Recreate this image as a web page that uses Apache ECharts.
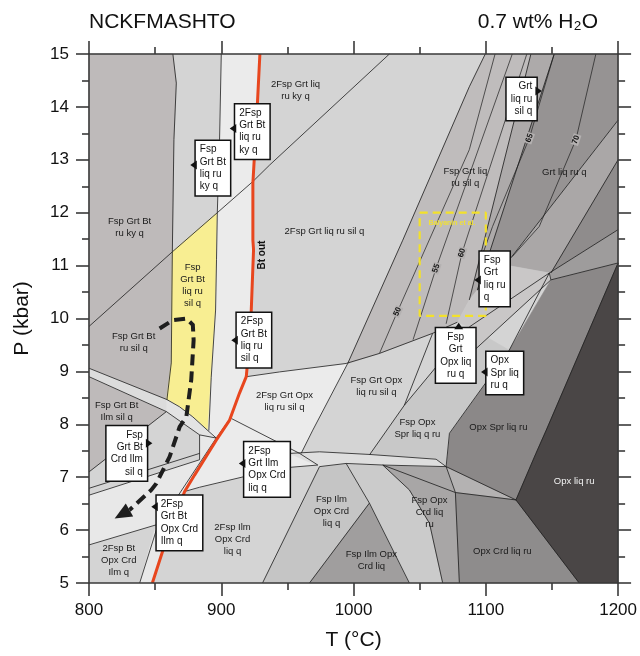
<!DOCTYPE html>
<html>
<head>
<meta charset="utf-8">
<script src="https://cdn.jsdelivr.net/npm/echarts@6/dist/echarts.min.js"></script>
<style>
html,body{margin:0;padding:0;background:#fff}
#chart{width:640px;height:656px}
</style>
</head>
<body>
<div id="chart"></div>
<script>
// Phase-field outlines, in [T (°C), P (kbar)]
const FIELDS = [
  {key:'btSub',      pts:[[800,15],[863.4,15],[866,14.45],[864.2,13.38],[863,11.26],[862.2,9.16],[858.9,8.46],[858.5,8.24],[800,7.10]]},
  {key:'ilmBand',    pts:[[800,9.06],[858.9,8.46],[858.5,8.24],[800,8.90]]},
  {key:'meltPath',   pts:[[863,11.26],[897,12.0],[896.4,11.11],[895.7,10.16],[892.4,8.89],[890.6,7.88],[878.5,8.14],[868.5,8.33],[858.7,8.47],[862.2,9.16]]},
  {key:'belowPath',  pts:[[858.7,8.47],[868.5,8.33],[878.5,8.14],[889.9,7.88],[896.2,7.74],[883.6,7.80],[858.5,8.24]]},
  {key:'twoFspBt',   pts:[[900,15],[929.2,15],[927.2,14.0],[923.9,12.56],[923.9,11.48],[924.4,11.30],[922.1,9.78],[918.9,8.90],[913.8,8.59],[906.3,8.08],[896.2,7.70],[889.9,7.88],[892.4,8.89],[895.7,10.16],[896.4,11.11],[897,12.0],[898.7,13.38]]},
  {key:'twoFspOpx',  pts:[[918.9,8.90],[944,8.99],[995.6,9.15],[969.2,7.89],[960.4,7.45],[907.6,8.11],[913.8,8.59]]},
  {key:'twoFspIlm',  pts:[[907.6,8.11],[959.2,7.45],[973,7.23],[944,7.17],[883.6,6.81],[872.3,6.73],[879.8,7.04],[896.2,7.70],[906.3,8.08]]},
  {key:'crdLight',   pts:[[800,6.66],[883.6,7.33],[883.6,7.80],[896.2,7.74],[905,8.05],[906.3,8.08],[896.2,7.70],[879.8,7.04],[872.3,6.73],[855.9,5.62],[847.9,5.0],[838.3,5.0],[850.9,6.10],[800,5.72]]},
  {key:'fspIlmQ',    pts:[[974.3,7.20],[994.4,7.26],[1012,6.51],[966.7,5.0],[931.2,5.0]]},
  {key:'fspIlm',     pts:[[1012,6.51],[1042.2,5.0],[966.7,5.0]]},
  {key:'crdStrip',   pts:[[994.4,7.26],[1022.1,7.23],[1042.2,6.76],[1057.4,6.13],[1067.4,5.0],[1042.2,5.0],[1012,6.51]]},
  {key:'fspOpxCrd',  pts:[[1022.1,7.23],[1070,7.20],[1077,6.71],[1080,5.0],[1067.4,5.0],[1057.4,6.13],[1042.2,6.76]]},
  {key:'triSpr',     pts:[[1070,7.20],[1122.8,6.57],[1077,6.71]]},
  {key:'opxCrd',     pts:[[1077,6.71],[1122.8,6.57],[1170.6,5.0],[1080,5.0]]},
  {key:'opxSpr',     pts:[[1117.7,9.40],[1149.2,10.73],[1200,11.05],[1145.7,7.89],[1137.9,7.45],[1122.8,6.57],[1070,7.20],[1072.5,7.83],[1085.1,8.27]]},
  {key:'opxLiq',     pts:[[1200,11.05],[1145.7,7.89],[1137.9,7.45],[1122.8,6.57],[1170.6,5.0],[1200,5.0]]},
  {key:'fspOpxSpr',  pts:[[1038.4,8.36],[1087.5,9.84],[1117.7,9.40],[1085.1,8.27],[1072.5,7.83],[1070,7.20],[1062.4,7.34],[1012,7.42]]},
  {key:'sliver',     pts:[[951.6,7.45],[974.3,7.48],[1012,7.43],[1062.4,7.34],[1070,7.20],[1022.1,7.23],[994.4,7.26],[974.3,7.20]]},
  {key:'fspGrtSil',  pts:[[1099.6,15],[1134.1,15],[1087.5,10.35],[1078.5,9.93],[1059.8,9.72],[1019.6,9.34],[995.6,9.15],[1037.2,11.48],[1087.5,14.38]]},
  {key:'grtSil',     pts:[[1134.1,15],[1151.7,15],[1093.6,10.54],[1087.5,10.35]]},
  {key:'grtQ',       pts:[[1151.7,15],[1200,15],[1200,13.75],[1114.7,11.01],[1093.6,10.54]]},
  {key:'bandA',      pts:[[1200,13.75],[1200,13.0],[1149.2,10.86],[1114.7,11.01]]},
  {key:'bandB',      pts:[[1200,13.0],[1200,11.68],[1148,10.86],[1149.2,10.86]]},
  {key:'bandC',      pts:[[1200,11.68],[1200,11.05],[1149.2,10.73],[1148,10.86]]},
  {key:'wedge',      pts:[[1078.5,9.93],[1087.5,10.35],[1093.6,10.54],[1114.7,11.01],[1148,10.86],[1149.2,10.73],[1091.3,9.40],[1087.5,9.84]]}
];

const SHADE = {
  btSub:'#bebaba', ilmBand:'#dcdcdc', meltPath:'#f8ee92', belowPath:'#e3e3e3',
  twoFspBt:'#ebebeb', twoFspOpx:'#ebebeb', twoFspIlm:'#ebebeb', crdLight:'#e8e8e8',
  fspIlmQ:'#c5c5c5', fspIlm:'#a09e9e', crdStrip:'#cbcbcb', fspOpxCrd:'#a8a6a6',
  triSpr:'#b4b2b2', opxCrd:'#8e8c8c', opxSpr:'#8b8888', opxLiq:'#4a4646',
  fspOpxSpr:'#c8c8c8', sliver:'#dedede', fspGrtSil:'#bfbcbc', grtSil:'#adaaaa',
  grtQ:'#969393', bandA:'#aaa7a7', bandB:'#8f8c8c', bandC:'#9e9c9c', wedge:'#c9c7c7'
};

// Field boundaries
const BOUNDARIES = [
  [[863.4,15],[866,14.45],[864.2,13.38],[863,11.26],[862.2,9.16],[858.9,8.46]],
  [[800,9.85],[863,11.26],[897,12.0],[923.9,12.59],[936.5,12.90],[1027.1,15]],
  [[900,15],[898.7,13.38],[897,12.0],[896.4,11.11],[895.7,10.16],[892.4,8.89],[890.6,7.88]],
  [[800,9.06],[858.7,8.47],[868.5,8.33],[878.5,8.14],[889.9,7.88],[896.2,7.74]],
  [[800,8.90],[858.5,8.24],[883.6,7.80],[896.2,7.74]],
  [[858.5,8.24],[800,7.10]],
  [[883.6,7.80],[883.6,7.33]],
  [[800,6.79],[883.6,7.45]],
  [[800,6.66],[883.6,7.33]],
  [[905,8.05],[896.2,7.74],[866,6.60],[850.9,6.0],[838.3,5.0]],
  [[800,5.72],[850.9,6.10]],
  [[918.9,8.90],[944,8.99],[994.4,9.15],[1019.6,9.34],[1059.8,9.72],[1078.5,9.93]],
  [[1099.6,15],[1087.5,14.38],[1037.2,11.48],[995.6,9.15],[969.2,7.89],[960.4,7.45]],
  [[907.6,8.11],[959.2,7.45],[973,7.23]],
  [[872.3,6.73],[883.6,6.81],[944,7.17],[973,7.23]],
  [[974.3,7.20],[931.2,5.0]],
  [[994.4,7.26],[1012,6.51],[966.7,5.0]],
  [[1012,6.51],[1042.2,5.0]],
  [[1022.1,7.23],[1042.2,6.76],[1057.4,6.13],[1067.4,5.0]],
  [[1022.1,7.23],[1077,6.71]],
  [[1070,7.20],[1077,6.71],[1080,5.0]],
  [[1070,7.20],[1122.8,6.57]],
  [[1077,6.71],[1122.8,6.57],[1170.6,5.0]],
  [[1122.8,6.57],[1137.9,7.45],[1145.7,7.89],[1200,11.05]],
  [[1038.4,8.36],[1012,7.42]],
  [[1059.8,9.72],[1038.4,8.36]],
  [[1038.4,8.36],[1087.5,9.84]],
  [[951.6,7.45],[974.3,7.48],[1012,7.43],[1062.4,7.34],[1070,7.20]],
  [[974.3,7.20],[994.4,7.26],[1022.1,7.23],[1070,7.20]],
  [[1070,7.20],[1072.5,7.83],[1085.1,8.27],[1117.7,9.40],[1148,10.86]],
  [[1134.1,15],[1087.5,10.35]],
  [[1151.7,15],[1093.6,10.54]],
  [[1200,13.75],[1114.7,11.01],[1093.6,10.54]],
  [[1200,13.0],[1149.2,10.86]],
  [[1087.5,9.84],[1148,10.86],[1200,11.68]],
  [[1091.3,9.40],[1149.2,10.73],[1200,11.05]],
  [[1148,10.86],[1149.2,10.73]]
];

// Biotite-out reaction
const BT_OUT = [[929.2,15],[927.2,14.0],[923.9,12.56],[923.9,11.48],[924.4,11.30],[922.1,9.78],[918.9,8.90],[913.8,8.59],[906.3,8.08],[896.2,7.70],[879.8,7.04],[872.3,6.73],[855.9,5.62],[847.9,5.0]];

// Isopleths with their values
const ISOPLETHS = [
  {value:'50', pts:[[1019.6,9.34],[1033.2,10.13],[1087.5,13.19],[1107,15]], at:1},
  {value:'55', pts:[[1045,9.6],[1062.4,10.95],[1120,15]], at:1},
  {value:'60', pts:[[1070,9.9],[1082,11.24],[1131,15]], at:1},
  {value:'65', pts:[[1097.4,11.2],[1105.1,11.74],[1132.9,13.41],[1151.7,15]], at:2},
  {value:'70', pts:[[1120,11.17],[1140.4,11.74],[1168.1,13.38],[1183.2,15]], at:2}
];

// P-T path
const PATH = [[853.4,9.81],[863.4,9.97],[873.6,10.0],[878.5,9.88],[879.1,9.59],[877.3,8.84],[873.6,8.14],[868.5,7.95],[861,7.39],[850.9,6.88],[847.1,6.76],[830.7,6.38],[819.4,6.22]];

// Study window
const WINDOW_T = [1050, 1100];
const WINDOW_P = [10.05, 12];

// Field names placed inside fields
const FIELD_NAMES = [
  {text:'2Fsp Grt liq\nru ky q', at:[956.1,14.32]},
  {text:'Fsp Grt Bt\nru ky q', at:[830.7,11.73]},
  {text:'2Fsp Grt liq ru sil q', at:[978,11.65]},
  {text:'Fsp Grt liq\nru sil q', at:[1084.5,12.67]},
  {text:'Grt liq ru q', at:[1159.3,12.77]},
  {text:'Fsp Grt Bt\nru sil q', at:[833.8,9.54]},
  {text:'Fsp Grt Bt\nIlm sil q', at:[820.9,8.25]},
  {text:'Fsp\nGrt Bt\nliq ru\nsil q', at:[878.3,10.63]},
  {text:'2Fsp Grt Opx\nliq ru sil q', at:[947.8,8.44]},
  {text:'Fsp Grt Opx\nliq ru sil q', at:[1017.3,8.72]},
  {text:'Fsp Opx\nSpr liq q ru', at:[1048.3,7.93]},
  {text:'Opx Spr liq ru', at:[1109.5,7.95]},
  {text:'Opx liq ru', at:[1166.8,6.93], light:true},
  {text:'Opx Crd liq ru', at:[1112.5,5.60]},
  {text:'Fsp Opx\nCrd liq\nru', at:[1057.4,6.34]},
  {text:'Fsp Ilm Opx\nCrd liq', at:[1013.5,5.43]},
  {text:'Fsp Ilm\nOpx Crd\nliq q', at:[983.3,6.36]},
  {text:'2Fsp Ilm\nOpx Crd\nliq q', at:[908.5,5.83]},
  {text:'2Fsp Bt\nOpx Crd\nIlm q', at:[822.5,5.42]}
];

// Boxed names for narrow fields: tip = the point the marker points at
const CALLOUTS = [
  {text:'2Fsp\nGrt Bt\nliq ru\nky q', tip:[906.4,13.59], side:'left'},
  {text:'Fsp\nGrt Bt\nliq ru\nky q', tip:[876.6,12.90], side:'left'},
  {text:'2Fsp\nGrt Bt\nliq ru\nsil q', tip:[907.6,9.59], side:'left'},
  {text:'Grt\nliq ru\nsil q', tip:[1142.4,14.30], side:'right'},
  {text:'Fsp\nGrt\nliq ru\nq', tip:[1091.3,10.73], side:'left'},
  {text:'Fsp\nGrt\nOpx liq\nru q', tip:[1079.5,9.92], side:'top'},
  {text:'Opx\nSpr liq\nru q', tip:[1096.4,8.99], side:'left'},
  {text:'Fsp\nGrt Bt\nCrd Ilm\nsil q', tip:[847.9,7.64], side:'right'},
  {text:'2Fsp\nGrt Ilm\nOpx Crd\nliq q', tip:[913.3,7.26], side:'left'},
  {text:'2Fsp\nGrt Bt\nOpx Crd\nIlm q', tip:[847.1,6.44], side:'left'}
];
// pixel shift of each box centre from its marker
const CALLOUT_SHIFT = [3, 3, 0, 8, -1, -3, 1, 10, 6, 16];

const FONT = '"Liberation Sans", Arial, Helvetica, sans-serif';

const chart = echarts.init(document.getElementById('chart'), null, {renderer:'canvas'});

function axisCommon(showLabels) {
  return {
    type:'value', min:800, max:1200, interval:100,
    axisLine:{show:true, onZero:false, lineStyle:{color:'#3a3a3a', width:1.6}},
    axisTick:{show:true, inside:false, length:13, lineStyle:{color:'#3a3a3a', width:1.6}},
    minorTick:{show:true, splitNumber:2, length:7, lineStyle:{color:'#3a3a3a', width:1.6}},
    splitLine:{show:false}, minorSplitLine:{show:false},
    axisLabel:{show:showLabels, fontSize:17, color:'#111', fontFamily:FONT, margin:19, formatter:v => String(v)},
    z:10
  };
}

const option = {
  animation:false,
  backgroundColor:'#fff',
  grid:{left:89, right:21, top:54, bottom:73, show:true, backgroundColor:'#d4d4d4', borderWidth:0},
  graphic:[
    {type:'text', left:89, top:12, style:{text:'NCKFMASHTO', font:'21px ' + FONT, fill:'#111'}},
    {type:'text', right:42, top:12, style:{text:'0.7 wt% H₂O', font:'21px ' + FONT, fill:'#111'}}
  ],
  xAxis:[
    Object.assign(axisCommon(true), {position:'bottom', name:'T (°C)', nameLocation:'middle', nameGap:47,
      nameTextStyle:{fontSize:21, fontFamily:FONT, color:'#111'}}),
    Object.assign(axisCommon(false), {position:'top'})
  ],
  yAxis:[
    Object.assign(axisCommon(true), {min:5, max:15, interval:1, position:'left', name:'P (kbar)', nameLocation:'middle', nameGap:56,
      nameTextStyle:{fontSize:21, fontFamily:FONT, color:'#111'}, axisLabel:{show:true, fontSize:17, color:'#111', fontFamily:FONT, margin:20, formatter:v => String(v)}}),
    Object.assign(axisCommon(false), {min:5, max:15, interval:1, position:'right'})
  ],
  series:[
    {
      type:'custom', name:'fields', xAxisIndex:0, yAxisIndex:0, silent:true, z:1,
      data:FIELDS.map(f => f.pts[0]),
      renderItem:(params, api) => {
        const f = FIELDS[params.dataIndex];
        const c = SHADE[f.key];
        return {type:'polygon', shape:{points:f.pts.map(p => api.coord(p))}, style:{fill:c, stroke:c, lineWidth:0.6}};
      }
    },
    {
      type:'custom', name:'boundaries', silent:true, z:2,
      data:BOUNDARIES.map(b => b[0]),
      renderItem:(params, api) => ({
        type:'polyline', shape:{points:BOUNDARIES[params.dataIndex].map(p => api.coord(p))},
        style:{stroke:'#1c1c1c', lineWidth:0.8, fill:null}
      })
    },
    {
      type:'custom', name:'isopleths', silent:true, z:3,
      data:ISOPLETHS.map(c => c.pts[0]),
      renderItem:(params, api) => {
        const c = ISOPLETHS[params.dataIndex];
        const px = c.pts.map(p => api.coord(p));
        const a = px[c.at - 1] || px[0], b = px[c.at + 1] || px[px.length - 1];
        let ang = Math.atan2(b[1] - a[1], b[0] - a[0]);
        const lab = px[c.at];
        return {type:'group', children:[
          {type:'polyline', shape:{points:px}, style:{stroke:'#1c1c1c', lineWidth:0.7, fill:null}},
          {type:'text', x:lab[0], y:lab[1], rotation:-ang,
            style:{text:c.value, font:'bold 8px ' + FONT, fill:'#111', align:'center', verticalAlign:'middle',
              backgroundColor:'#b4b1b1', padding:[0,1]}}
        ]};
      }
    },
    {
      type:'line', name:'Bt out', data:BT_OUT, showSymbol:false, symbol:'none', silent:true, z:4,
      lineStyle:{color:'#e8461e', width:3}
    },
    {
      type:'line', name:'window', silent:true, z:4, symbol:'none',
      data:[[WINDOW_T[0],WINDOW_P[1]],[WINDOW_T[1],WINDOW_P[1]],[WINDOW_T[1],WINDOW_P[0]],[WINDOW_T[0],WINDOW_P[0]],[WINDOW_T[0],WINDOW_P[1]]],
      lineStyle:{color:'#f3e12a', width:2.2, type:[8,5]}
    },
    {
      type:'custom', name:'names', silent:true, z:5,
      data:FIELD_NAMES.map(n => n.at),
      renderItem:(params, api) => {
        const n = FIELD_NAMES[params.dataIndex];
        const p = api.coord(n.at);
        return {type:'text', x:p[0], y:p[1], style:{text:n.text, font:'9.5px ' + FONT, fill:n.light ? '#f2f2f2' : '#1a1a1a',
          align:'center', verticalAlign:'middle', lineHeight:12}};
      }
    },
    {
      type:'custom', name:'annotations', silent:true, z:5,
      data:[[931,11.2],[1056.6,11.81]],
      renderItem:(params, api) => {
        const p = api.coord([api.value(0), api.value(1)]);
        if (params.dataIndex === 0) {
          return {type:'text', x:p[0], y:p[1], rotation:Math.PI / 2,
            style:{text:'Bt out', font:'bold 10px ' + FONT, fill:'#111', align:'center', verticalAlign:'middle'}};
        }
        return {type:'text', x:p[0], y:p[1],
          style:{text:'Balyanin et al.', font:'bold 7px ' + FONT, fill:'#efe03a', align:'left', verticalAlign:'middle'}};
      }
    },
    {
      type:'custom', name:'P-T path', silent:true, z:6,
      data:[PATH[0]],
      renderItem:(params, api) => {
        const px = PATH.map(p => api.coord(p));
        const tip = px[px.length - 1], prev = px[px.length - 2];
        const dx = tip[0] - prev[0], dy = tip[1] - prev[1];
        const L = Math.hypot(dx, dy), ux = dx / L, uy = dy / L;
        const head = 17, half = 7.5;
        const base = [tip[0] - ux * head, tip[1] - uy * head];
        const line = px.slice(0, -1).concat([base]);
        return {type:'group', children:[
          {type:'polyline', shape:{points:line}, style:{stroke:'#1e1e1e', lineWidth:4, lineDash:[11,6], fill:null}},
          {type:'polygon', shape:{points:[tip, [base[0] - uy * half, base[1] + ux * half], [base[0] + uy * half, base[1] - ux * half]]},
            style:{fill:'#1e1e1e'}}
        ]};
      }
    },
    {
      type:'custom', name:'callouts', silent:true, z:7,
      data:CALLOUTS.map(c => c.tip),
      renderItem:(params, api) => {
        const c = CALLOUTS[params.dataIndex];
        const s = CALLOUT_SHIFT[params.dataIndex];
        const t = api.coord(c.tip);
        const g = 5.5, h = 4.5;
        let tx, ty, align, va, tri;
        if (c.side === 'left') {
          tx = t[0] + g; ty = t[1] + s; align = 'left'; va = 'middle';
          tri = [t, [t[0] + g + 1, t[1] - h], [t[0] + g + 1, t[1] + h]];
        } else if (c.side === 'right') {
          tx = t[0] - g; ty = t[1] + s; align = 'right'; va = 'middle';
          tri = [t, [t[0] - g - 1, t[1] - h], [t[0] - g - 1, t[1] + h]];
        } else {
          tx = t[0] + s; ty = t[1] + g; align = 'center'; va = 'top';
          tri = [t, [t[0] - h, t[1] + g + 1], [t[0] + h, t[1] + g + 1]];
        }
        return {type:'group', children:[
          {type:'text', x:tx, y:ty, style:{text:c.text, font:'10px ' + FONT, fill:'#111', align:align, verticalAlign:va,
            lineHeight:12.3, backgroundColor:'#fff', borderColor:'#111', borderWidth:1.5, padding:[3,4,2,4]}},
          {type:'polygon', shape:{points:tri}, style:{fill:'#111'}}
        ]};
      }
    }
  ]
};

chart.setOption(option);
</script>
</body>
</html>
